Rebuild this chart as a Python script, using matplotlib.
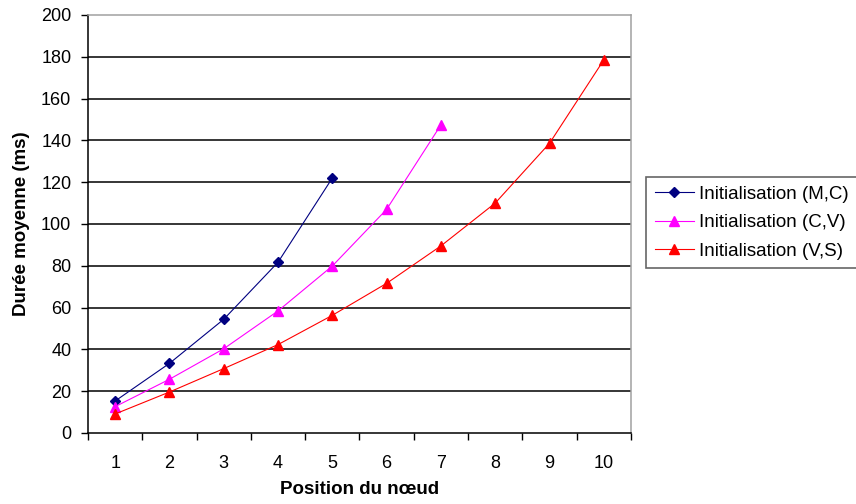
import numpy as np
import matplotlib
matplotlib.use("Agg")
import matplotlib.pyplot as plt

plt.rcParams['font.family'] = ['Liberation Sans', 'DejaVu Sans']

positions = [1, 2, 3, 4, 5, 6, 7, 8, 9, 10]
mc_vals = [15.3, 33.3, 54.4, 81.7, 122]
cv_vals = [12.6, 25.7, 40.3, 58.4, 79.9, 107, 147.4]
vs_vals = [9.1, 19.6, 30.8, 42.3, 56.3, 71.6, 89.5, 110, 138.6, 178.5]
labels = ["Initialisation (M,C)", "Initialisation (C,V)", "Initialisation (V,S)"]

fig = plt.figure(figsize=(8.56, 5.04), dpi=100)
ax = fig.add_axes([0.1028, 0.1409, 0.6343, 0.8294])

ax.plot(positions[:len(mc_vals)], mc_vals, color='#000080', lw=0.8,
        marker='D', ms=5, label=labels[0])
ax.plot(positions[:len(cv_vals)], cv_vals, color='#FF00FF', lw=0.8,
        marker='^', ms=7.5, label=labels[1])
ax.plot(positions[:len(vs_vals)], vs_vals, color='#FF0000', lw=0.8,
        marker='^', ms=7.5, label=labels[2])

ax.set_xlim(0.5, 10.5)
ax.set_ylim(0, 200)
ax.set_yticks(np.arange(0, 201, 20))
ax.set_xticks(positions)
ax.set_xticks(np.arange(0.5, 10.6, 1), minor=True)
ax.tick_params(axis='x', which='major', length=0, pad=16, labelsize=13)
ax.tick_params(axis='x', which='minor', length=5, width=1, direction='out')
ax.tick_params(axis='y', length=5, width=1, direction='out', pad=7, labelsize=13)

for v in range(20, 200, 20):
    ax.axhline(v, color='black', lw=1.1, zorder=0)

ax.spines['left'].set_color('black')
ax.spines['bottom'].set_color('black')
ax.spines['top'].set_color('#a0a0a0')
ax.spines['right'].set_color('#a0a0a0')
for s in ax.spines.values():
    s.set_linewidth(1.1)

ax.set_xlabel("Position du nœud", fontweight='bold', fontsize=13.5, labelpad=6)
ax.set_ylabel("Durée moyenne (ms)", fontweight='bold', fontsize=13.5, labelpad=8)

leg = ax.legend(loc='center left', bbox_to_anchor=(1.028, 0.503), frameon=True,
                fancybox=False, edgecolor='#404040', fontsize=13.5,
                handlelength=2.1, handletextpad=0.25, borderpad=0.45,
                labelspacing=0.6, borderaxespad=0)
leg.get_frame().set_linewidth(1.2)

fig.savefig("out.png", dpi=100)
